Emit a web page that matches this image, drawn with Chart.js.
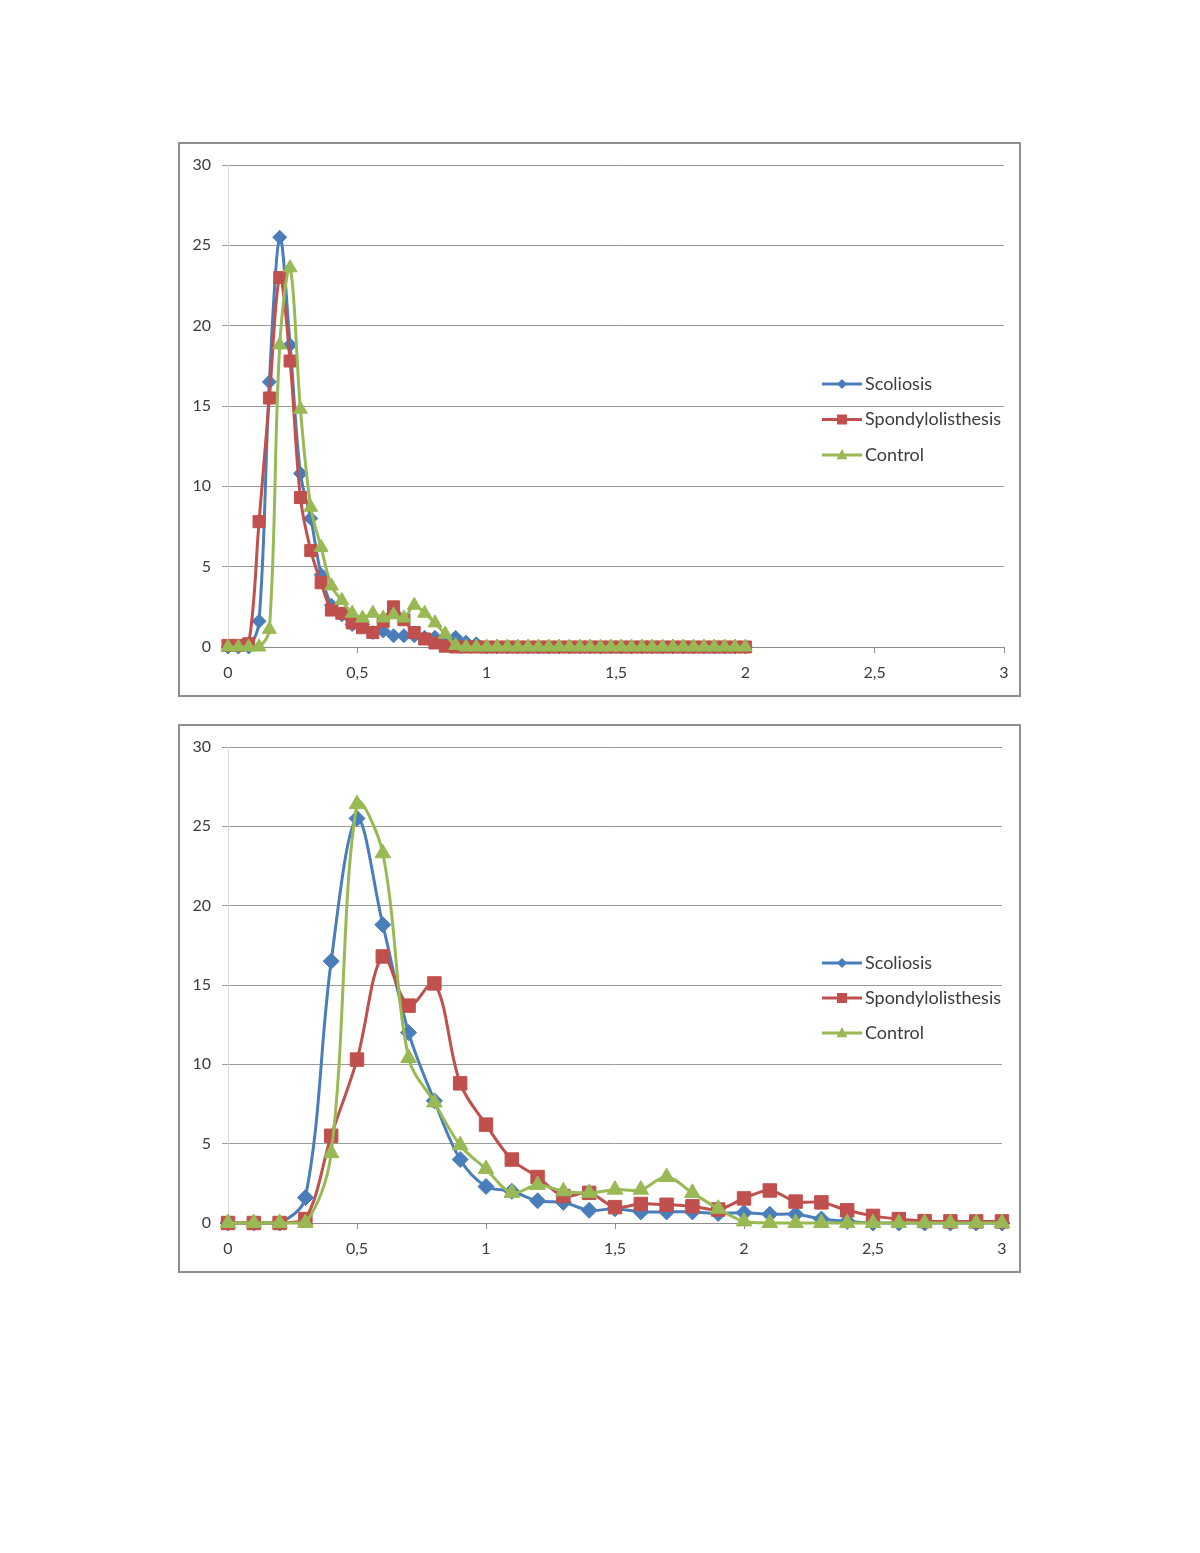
<!DOCTYPE html>
<html lang="pt-BR">
<head>
<meta charset="utf-8">
<title>Distribuições</title>
<script src="https://cdn.jsdelivr.net/npm/chart.js@4.4.1/dist/chart.umd.min.js"></script>
<style>
  body { margin: 0; background: #fff; width: 1200px; height: 1553px; position: relative; overflow: hidden; }
  .moldura { position: absolute; left: 178px; width: 843px; border: 2px solid #8f8f8f; box-sizing: border-box; }
  canvas { position: absolute; left: 179px; }
</style>
</head>
<body>
<div class="moldura" style="top:142px;height:555px"></div>
<div class="moldura" style="top:724px;height:549px"></div>
<canvas id="graficoSuperior" width="842" height="554" style="top:143px"></canvas>
<canvas id="graficoInferior" width="842" height="548" style="top:725px"></canvas>
<script>
// Dados do gráfico superior (passo 0,04 no eixo x)
const xSuperior = [0, 0.04, 0.08, 0.12, 0.16, 0.2, 0.24, 0.28, 0.32, 0.36, 0.4, 0.44, 0.48, 0.52, 0.56, 0.6, 0.64,
  0.68, 0.72, 0.76, 0.8, 0.84, 0.88, 0.92, 0.96, 1, 1.04, 1.08, 1.12, 1.16, 1.2, 1.24, 1.28, 1.32, 1.36, 1.4,
  1.44, 1.48, 1.52, 1.56, 1.6, 1.64, 1.68, 1.72, 1.76, 1.8, 1.84, 1.88, 1.92, 1.96, 2];
const escolioseSuperior = [0, 0, 0, 1.6, 16.5, 25.5, 18.8, 10.8, 8.0, 4.5, 2.6, 2.0, 1.4, 1.4, 0.9, 1.0, 0.7,
  0.7, 0.7, 0.6, 0.6, 0.5, 0.6, 0.3, 0.2, 0, 0, 0, 0, 0, 0, 0, 0, 0, 0, 0,
  0, 0, 0, 0, 0, 0, 0, 0, 0, 0, 0, 0, 0, 0, 0];
const espondiloSuperior = [0.1, 0.1, 0.2, 7.8, 15.5, 23.0, 17.8, 9.3, 6.0, 4.0, 2.3, 2.1, 1.5, 1.2, 0.9, 1.6, 2.5,
  1.7, 0.9, 0.5, 0.25, 0.05, 0, 0, 0, 0, 0, 0, 0, 0, 0, 0, 0, 0, 0, 0,
  0, 0, 0, 0, 0, 0, 0, 0, 0, 0, 0, 0, 0, 0, 0];
const controleSuperior = [0, 0, 0, 0, 1.1, 18.8, 23.6, 14.8, 8.7, 6.2, 3.8, 2.9, 2.1, 1.8, 2.1, 1.8, 2.0,
  1.8, 2.6, 2.1, 1.5, 0.8, 0.1, 0, 0, 0, 0, 0, 0, 0, 0, 0, 0, 0, 0, 0,
  0, 0, 0, 0, 0, 0, 0, 0, 0, 0, 0, 0, 0, 0, 0];

// Dados do gráfico inferior (passo 0,1 no eixo x)
const xInferior = [0, 0.1, 0.2, 0.3, 0.4, 0.5, 0.6, 0.7, 0.8, 0.9, 1, 1.1, 1.2, 1.3, 1.4, 1.5, 1.6, 1.7, 1.8,
  1.9, 2, 2.1, 2.2, 2.3, 2.4, 2.5, 2.6, 2.7, 2.8, 2.9, 3];
const escolioseInferior = [0, 0, 0, 1.6, 16.5, 25.5, 18.8, 12.0, 7.7, 4.0, 2.3, 2.0, 1.4, 1.3, 0.8, 0.9, 0.7,
  0.7, 0.7, 0.6, 0.65, 0.55, 0.55, 0.25, 0.1, 0, 0, 0, 0, 0, 0];
const espondiloInferior = [0, 0, 0, 0.25, 5.5, 10.3, 16.8, 13.7, 15.1, 8.8, 6.2, 4.0, 2.9, 1.7, 1.9, 1.0, 1.2,
  1.15, 1.05, 0.85, 1.55, 2.05, 1.35, 1.3, 0.8, 0.45, 0.25, 0.12, 0.1, 0.1, 0.1];
const controleInferior = [0, 0, 0, 0, 4.4, 26.4, 23.3, 10.4, 7.6, 4.9, 3.4, 1.9, 2.4, 2.0, 1.9, 2.1, 2.1,
  2.9, 1.9, 0.9, 0.1, 0, 0, 0, 0, 0, 0, 0, 0, 0, 0];

const rotulos = ['Scoliosis', 'Spondylolisthesis', 'Control'];
const ticksY = [0, 5, 10, 15, 20, 25, 30];
const ticksX = [0, 0.5, 1, 1.5, 2, 2.5, 3];

const cores = ['#4a7ebb', '#c0504d', '#98b954'];
const estilos = ['rectRot', 'rect', 'triangle'];
const fonte = 'Lato, "Open Sans", sans-serif';
const corTexto = '#3c3c3c';

// Desenha um marcador simples (losango, quadrado ou triângulo)
function marcador(ctx, estilo, x, y, r) {
  ctx.beginPath();
  if (estilo === 'rectRot') {
    ctx.moveTo(x - r, y); ctx.lineTo(x, y - r); ctx.lineTo(x + r, y); ctx.lineTo(x, y + r);
  } else if (estilo === 'rect') {
    ctx.rect(x - r, y - r, 2 * r, 2 * r);
  } else {
    ctx.moveTo(x, y - r * 1.1); ctx.lineTo(x + r, y + r * 0.75); ctx.lineTo(x - r, y + r * 0.75);
  }
  ctx.closePath();
  ctx.fill();
}

// Legenda no estilo Excel, sobreposta à área de plotagem
const legendaExcel = {
  id: 'legendaExcel',
  afterDraw(chart, args, opts) {
    const ctx = chart.ctx;
    ctx.save();
    chart.data.datasets.forEach((ds, i) => {
      const y = opts.y + i * opts.espaco;
      ctx.strokeStyle = ds.borderColor;
      ctx.lineWidth = 3;
      ctx.beginPath();
      ctx.moveTo(opts.x, y);
      ctx.lineTo(opts.x + 40, y);
      ctx.stroke();
      ctx.fillStyle = ds.borderColor;
      marcador(ctx, estilos[i], opts.x + 20, y, [5, 5, 5.5][i]);
      ctx.fillStyle = corTexto;
      ctx.font = '18px ' + fonte;
      ctx.textBaseline = 'middle';
      ctx.fillText(ds.label, opts.x + 43, y);
    });
    ctx.restore();
  },
};

function montar(canvasId, xs, series, raios, padDireita, legenda) {
  const datasets = series.map((valores, i) => ({
    label: rotulos[i],
    data: xs.map((x, j) => ({ x, y: valores[j] })),
    borderColor: cores[i],
    backgroundColor: cores[i],
    pointBackgroundColor: cores[i],
    pointBorderColor: cores[i],
    pointBorderWidth: 1,
    pointStyle: estilos[i],
    pointRadius: raios[i],
    borderWidth: 3,
    tension: 0.35,
    clip: false,
    order: 2 - i,
  }));
  return new Chart(document.getElementById(canvasId), {
    type: 'line',
    data: { datasets },
    plugins: [legendaExcel],
    options: {
      responsive: false,
      animation: false,
      devicePixelRatio: 1,
      layout: { padding: { left: 0, right: padDireita, top: 22, bottom: 0 } },
      plugins: {
        legend: { display: false },
        tooltip: { enabled: false },
        legendaExcel: legenda,
      },
      scales: {
        x: {
          type: 'linear',
          min: 0,
          max: 3,
          afterBuildTicks: (s) => { s.ticks = ticksX.map((v) => ({ value: v })); },
          afterFit: (s) => { s.height = 50; },
          grid: { drawOnChartArea: false, drawTicks: true, tickLength: 6, color: '#8c8c8c' },
          border: { color: '#8c8c8c', width: 1 },
          ticks: {
            padding: 10,
            color: corTexto,
            font: { family: fonte, size: 16 },
            callback: (v) => String(v).replace('.', ','),
          },
        },
        y: {
          min: 0,
          max: 30,
          afterBuildTicks: (s) => { s.ticks = ticksY.map((v) => ({ value: v })); },
          afterFit: (s) => { s.width = 49; },
          grid: { color: '#9a9a9a', tickLength: 6, tickColor: '#9a9a9a' },
          border: { color: '#d9d9d9', width: 1 },
          ticks: { padding: 11, color: corTexto, font: { family: fonte, size: 16 } },
        },
      },
    },
  });
}

montar('graficoSuperior', xSuperior, [escolioseSuperior, espondiloSuperior, controleSuperior],
  [7, 8.5, 8], 17, { x: 643, y: 241, espaco: 35.5 });
montar('graficoInferior', xInferior, [escolioseInferior, espondiloInferior, controleInferior],
  [8, 9.5, 9], 19, { x: 643, y: 238, espaco: 35 });
</script>
</body>
</html>
